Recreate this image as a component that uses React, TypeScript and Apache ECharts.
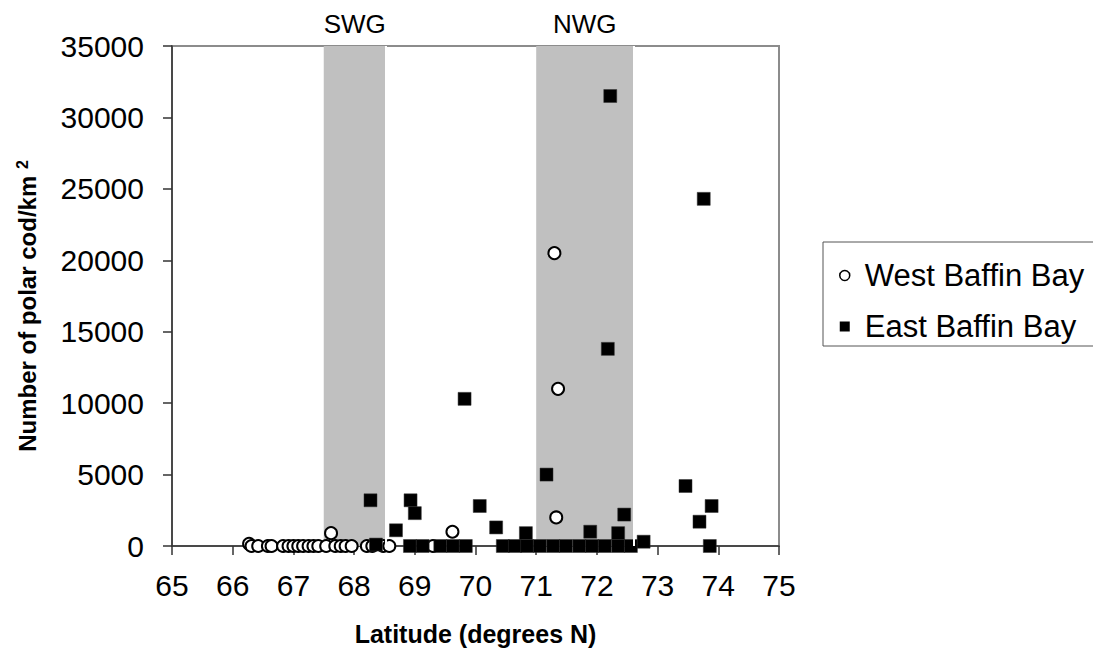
import React, { useEffect, useRef } from "react";
import * as echarts from "echarts";

// West Baffin Bay (open circles)
const westLat = [66.27, 66.31, 66.42, 66.58, 66.64, 66.83, 66.92, 67.0, 67.08, 67.16, 67.25, 67.33, 67.41, 67.54, 67.62, 67.69, 67.78, 67.86, 67.96, 68.21, 68.3, 68.48, 68.58, 69.3, 69.62, 71.3, 71.36, 71.33];
const westVal = [150, 0, 0, 0, 0, 0, 0, 0, 0, 0, 0, 0, 0, 0, 900, 0, 0, 0, 0, 0, 0, 0, 0, 0, 1000, 20500, 11000, 2000];

// East Baffin Bay (filled squares)
const eastLat = [68.27, 68.36, 68.69, 68.93, 69.0, 68.92, 69.13, 69.42, 69.63, 69.84, 69.82, 70.07, 70.34, 70.45, 70.65, 70.83, 70.85, 71.06, 71.17, 71.28, 71.49, 71.71, 71.89, 71.92, 72.13, 72.18, 72.22, 72.35, 72.35, 72.45, 72.56, 72.77, 73.46, 73.69, 73.76, 73.86, 73.89];
const eastVal = [3200, 100, 1100, 3200, 2300, 0, 0, 0, 0, 0, 10300, 2800, 1300, 0, 0, 900, 0, 0, 5000, 0, 0, 0, 1000, 0, 0, 13800, 31500, 900, 0, 2200, 0, 300, 4200, 1700, 24300, 0, 2800];

// Shaded regions
const regionNames = ["SWG", "NWG"];
const regionStart = [67.5, 71.0];
const regionEnd = [68.52, 72.6];

const xTicks = [65, 75, 1];
const yTicks = [0, 35000, 5000];

const FONT = "'Liberation Sans', Arial, sans-serif";

export default function App() {
  const ref = useRef<HTMLDivElement>(null);
  useEffect(() => {
    if (!ref.current) return;
    const chart = echarts.init(ref.current, undefined, { renderer: "svg" });
    const west = westLat.map((x, i) => [x, westVal[i]]);
    const east = eastLat.map((x, i) => [x, eastVal[i]]);
    chart.setOption({
      animation: false,
      textStyle: { fontFamily: FONT },
      grid: {
        left: 172,
        top: 46,
        width: 607,
        height: 501,
        show: true,
        borderColor: "#8c8c8c",
        borderWidth: 2,
        backgroundColor: "transparent",
      },
      legend: {
        orient: "vertical",
        left: 823,
        top: 242,
        padding: [18, 10, 4, 16],
        itemWidth: 10,
        itemHeight: 10,
        itemGap: 20,
        borderColor: "#555",
        borderWidth: 1,
        textStyle: { fontSize: 31, color: "#000", fontFamily: FONT, padding: [0, 0, 0, 10] },
        data: [
          { name: "West Baffin Bay", icon: "circle", itemStyle: { color: "#fff", borderColor: "#000", borderWidth: 1.5 } },
          { name: "East Baffin Bay", icon: "rect", itemStyle: { color: "#000", borderWidth: 0 } },
        ],
      },
      xAxis: {
        type: "value",
        min: xTicks[0],
        max: xTicks[1],
        interval: xTicks[2],
        name: "Latitude (degrees N)",
        nameLocation: "middle",
        nameGap: 75,
        nameTextStyle: { fontSize: 25, fontWeight: "bold", color: "#000", fontFamily: FONT },
        axisLine: { show: true, lineStyle: { color: "#333", width: 1.5 } },
        axisTick: { show: true, inside: false, length: 9, lineStyle: { color: "#333", width: 1.5 } },
        axisLabel: { fontSize: 30, color: "#000", margin: 24, fontFamily: FONT },
        splitLine: { show: false },
      },
      yAxis: {
        type: "value",
        min: yTicks[0],
        max: yTicks[1],
        interval: yTicks[2],
        name: "{a|Number of polar cod/km }{b|2}",
        nameLocation: "middle",
        nameGap: 132,
        nameRotate: 90,
        nameTextStyle: {
          fontSize: 24,
          fontWeight: "bold",
          color: "#000",
          fontFamily: FONT,
          rich: {
            a: { fontSize: 24, fontWeight: "bold", color: "#000", fontFamily: FONT },
            b: { fontSize: 16, fontWeight: "bold", color: "#000", fontFamily: FONT, verticalAlign: "top", padding: [0, 20, 10, 0] },
          },
        },
        axisLine: { show: true, lineStyle: { color: "#333", width: 1.5 } },
        axisTick: { show: true, inside: false, length: 9, lineStyle: { color: "#333", width: 1.5 } },
        axisLabel: { fontSize: 30, color: "#000", margin: 28, fontFamily: FONT, formatter: (v: number) => String(v) },
        splitLine: { show: false },
      },
      series: [
        {
          name: "regions",
          type: "scatter",
          data: [],
          z: 1,
          silent: true,
          markArea: {
            silent: true,
            itemStyle: { color: "#c0c0c0", borderWidth: 0 },
            label: { show: true, position: "top", distance: 9, fontSize: 26, color: "#000", fontFamily: FONT },
            data: regionNames.map((n, i) => [
              { name: n, xAxis: regionStart[i] },
              { xAxis: regionEnd[i] },
            ]),
          },
          markLine: {
            silent: true,
            symbol: "none",
            label: { show: false },
            lineStyle: { color: "#ffffff", type: "solid", width: 2 },
            data: regionEnd.map((e) => ({ xAxis: e })),
          },
        },
        {
          name: "West Baffin Bay",
          type: "scatter",
          symbol: "circle",
          symbolSize: 12,
          z: 3,
          itemStyle: { color: "#ffffff", borderColor: "#000", borderWidth: 2, opacity: 1 },
          data: west,
        },
        {
          name: "East Baffin Bay",
          type: "scatter",
          symbol: "rect",
          symbolSize: 13,
          z: 4,
          itemStyle: { color: "#000", borderColor: "#333", borderWidth: 0.5, opacity: 1 },
          data: east,
        },
      ],
    });
    return () => chart.dispose();
  }, []);
  return <div ref={ref} style={{ width: 1093, height: 651, position: "absolute", left: 0, top: 0 }} />;
}
